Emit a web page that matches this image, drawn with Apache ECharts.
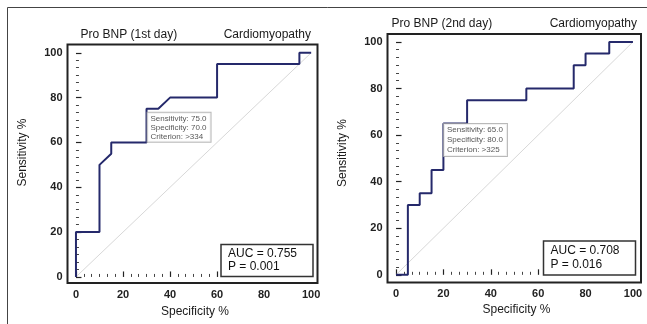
<!DOCTYPE html>
<html>
<head>
<meta charset="utf-8">
<script src="https://cdn.jsdelivr.net/npm/echarts@6/dist/echarts.min.js"></script>
<style>
  html, body { margin: 0; padding: 0; background: #fff; }
  #chart { width: 647px; height: 324px; }
</style>
</head>
<body>
<div id="chart"></div>
<script>
// ROC curves: x = "Specificity %" axis value, y = sensitivity %
const day1X = [0, 0, 10, 10, 15, 15, 30, 30, 35, 40, 60, 60, 95, 95, 100];
const day1Y = [0, 20, 20, 50, 55, 60, 60, 75, 75, 80, 80, 95, 95, 100, 100];
const day2X = [0, 5, 5, 10, 10, 15, 15, 20, 20, 30, 30, 55, 55, 75, 75, 80, 80, 90, 90, 100];
const day2Y = [0, 0, 30, 30, 35, 35, 45, 45, 65, 65, 75, 75, 80, 80, 90, 90, 95, 95, 100, 100];
const diagX = [0, 100];
const diagY = [0, 100];

// optimal cut-off points and their notes
const day1Cut = [30, 75];
const day2Cut = [20, 65];
const day1CutText = ['Sensitivity: 75.0', 'Specificity: 70.0', 'Criterion: >334'];
const day2CutText = ['Sensitivity: 65.0', 'Specificity: 80.0', 'Criterion: >325'];

const day1Stats = ['AUC = 0.755', 'P = 0.001'];
const day2Stats = ['AUC = 0.708', 'P = 0.016'];

const titles = ['Pro BNP (1st day)', 'Pro BNP (2nd day)'];
const groupLabel = 'Cardiomyopathy';
const xName = 'Specificity %';
const yName = 'Sensitivity %';

const majorTicks = [0, 20, 40, 60, 80, 100];
const minorTicks = [];
for (let i = 1; i < 30; i++) {
  if (i % 6 !== 0) minorTicks.push(+(i * 20 / 6).toFixed(3));
}

const FONT = '"Liberation Sans", Arial, sans-serif';
const INK = '#222';
const ROC_COLOR = '#25296b';

const toPairs = (xs, ys) => xs.map((x, i) => [x, ys[i]]);

// panel layout (pixels) and axis extents
const panels = [
  {
    grid: { left: 67.5, top: 44.5, width: 250, height: 238.5 },
    xRange: [-3.6, 102.7], yRange: [-2.7, 103.7],
    roc: toPairs(day1X, day1Y), cut: day1Cut, cutText: day1CutText,
    cutOffset: [1, 4], cutLine: 9,
    stats: day1Stats, statsBox: { left: 221, top: 244.5, padding: [3, 16, 3, 7], lineHeight: 13 },
  },
  {
    grid: { left: 387.5, top: 34, width: 253.5, height: 248.5 },
    xRange: [-3.6, 103.4], yRange: [-3.3, 103.4],
    roc: toPairs(day2X, day2Y), cut: day2Cut, cutText: day2CutText,
    cutOffset: [0.5, 0.5], cutLine: 10,
    stats: day2Stats, statsBox: { left: 543.5, top: 241, padding: [3, 16, 3, 7], lineHeight: 14 },
  },
];

const grids = [];
const xAxes = [];
const yAxes = [];
const series = [];
const titleList = [];

panels.forEach((p, gi) => {
  grids.push(Object.assign({
    show: true,
    borderColor: INK,
    borderWidth: 2,
    backgroundColor: 'transparent',
    containLabel: false,
    outerBoundsMode: 'none',
  }, p.grid));

  const xBase = {
    type: 'value', gridIndex: gi, position: 'bottom',
    min: p.xRange[0], max: p.xRange[1],
    splitLine: { show: false },
    axisLine: { show: false },
  };
  const yBase = {
    type: 'value', gridIndex: gi, position: 'left',
    min: p.yRange[0], max: p.yRange[1],
    splitLine: { show: false },
    axisLine: { show: false },
  };

  // major ticks + labels
  xAxes.push(Object.assign({}, xBase, {
    axisTick: { show: true, inside: true, length: 5.5, customValues: majorTicks, lineStyle: { color: INK, width: 1.2 } },
    axisLabel: { show: true, customValues: majorTicks, margin: 6, color: INK, fontSize: 11, fontWeight: 'bold', fontFamily: FONT },
  }));
  yAxes.push(Object.assign({}, yBase, {
    axisTick: { show: true, inside: true, length: 5.5, customValues: majorTicks, lineStyle: { color: INK, width: 1.2 } },
    axisLabel: { show: true, customValues: majorTicks, margin: 5, color: INK, fontSize: 11, fontWeight: 'bold', fontFamily: FONT },
  }));
  // minor ticks
  xAxes.push(Object.assign({}, xBase, {
    axisTick: { show: true, inside: true, length: 3, customValues: minorTicks, lineStyle: { color: '#444', width: 1 } },
    axisLabel: { show: false },
  }));
  yAxes.push(Object.assign({}, yBase, {
    axisTick: { show: true, inside: true, length: 3, customValues: minorTicks, lineStyle: { color: '#444', width: 1 } },
    axisLabel: { show: false },
  }));

  const xi = gi * 2;
  const yi = gi * 2;

  series.push({
    type: 'line', xAxisIndex: xi, yAxisIndex: yi,
    data: toPairs(diagX, diagY),
    symbol: 'none', silent: true,
    lineStyle: { color: '#d8d8d8', width: 1 },
    z: 2,
  });
  series.push({
    type: 'line', xAxisIndex: xi, yAxisIndex: yi,
    data: p.roc,
    symbol: 'none', silent: true,
    lineStyle: { color: ROC_COLOR, width: 2 },
    z: 3,
  });
  series.push({
    type: 'scatter', xAxisIndex: xi, yAxisIndex: yi,
    data: [p.cut],
    symbolSize: 0, silent: true,
    label: {
      show: true,
      position: p.cutOffset,
      align: 'left',
      verticalAlign: 'top',
      formatter: p.cutText.join('\n'),
      fontFamily: FONT,
      fontSize: 8,
      lineHeight: p.cutLine,
      color: '#2a2a2a',
      backgroundColor: '#fff',
      borderColor: '#a8a8a8',
      borderWidth: 1,
      padding: [1, 4, 1, 3],
    },
    z: 5,
  });

  titleList.push({
    text: p.stats.join('\n'),
    left: p.statsBox.left,
    top: p.statsBox.top,
    padding: p.statsBox.padding,
    borderColor: '#333',
    borderWidth: 1.5,
    backgroundColor: '#fff',
    textStyle: { fontFamily: FONT, fontSize: 12, fontWeight: 'normal', color: '#111', lineHeight: p.statsBox.lineHeight },
  });
});

const txt = (text, x, y, align, extra) => Object.assign({
  type: 'text', x: x, y: y, silent: true,
  style: { text: text, font: '12px ' + FONT, fill: '#1a1a1a', textAlign: align, textVerticalAlign: 'middle' },
}, extra || {});

const graphics = [
  { type: 'line', silent: true, shape: { x1: 7.5, y1: 7.5, x2: 647, y2: 7.5 }, style: { stroke: '#444', lineWidth: 1 } },
  { type: 'line', silent: true, shape: { x1: 7.5, y1: 7.5, x2: 7.5, y2: 324 }, style: { stroke: '#444', lineWidth: 1 } },
  txt(titles[0], 80.5, 35, 'left'),
  txt(groupLabel, 311, 35, 'right'),
  txt(titles[1], 391.5, 23.5, 'left'),
  txt(groupLabel, 637, 23.5, 'right'),
  txt(yName, 23, 152.5, 'center', { rotation: Math.PI / 2 }),
  txt(yName, 343, 153, 'center', { rotation: Math.PI / 2 }),
  txt(xName, 195, 312, 'center'),
  txt(xName, 516.5, 310, 'center'),
];

const chart = echarts.init(document.getElementById('chart'), null, { renderer: 'canvas' });
chart.setOption({
  animation: false,
  backgroundColor: '#fff',
  title: titleList,
  grid: grids,
  xAxis: xAxes,
  yAxis: yAxes,
  series: series,
  graphic: graphics,
});

window.addEventListener('resize', () => chart.resize());
</script>
</body>
</html>
